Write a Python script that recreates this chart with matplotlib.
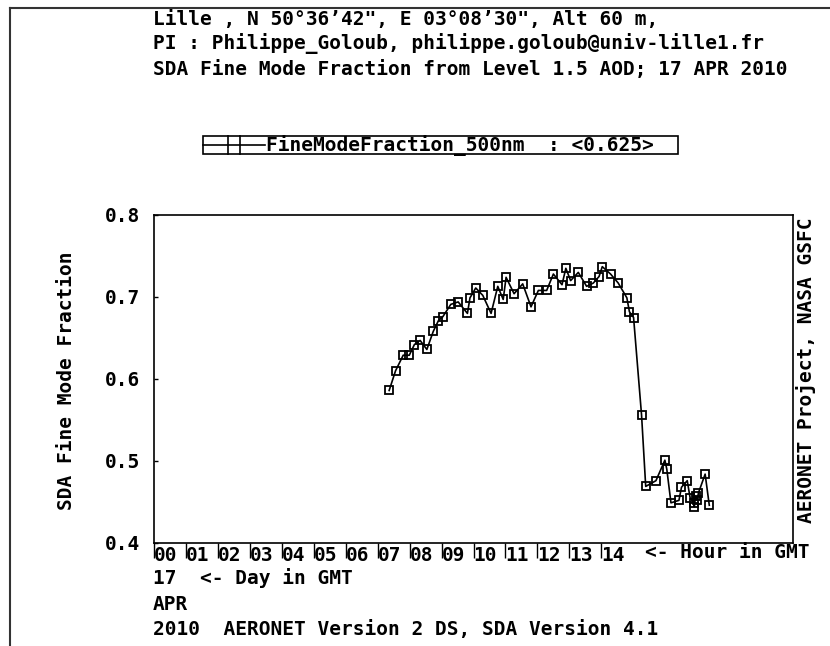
import numpy as np
import matplotlib.pyplot as plt
from matplotlib.lines import Line2D
from matplotlib.patches import Rectangle

# Fine mode fraction at 500 nm, Lille, 17 APR 2010 (hour in GMT)
hours = [7.36, 7.56, 7.80, 7.99, 8.15, 8.33, 8.54, 8.74, 8.90, 9.04,
         9.29, 9.52, 9.81, 9.89, 10.07, 10.29, 10.55, 10.76, 10.93, 11.02,
         11.27, 11.54, 11.80, 12.03, 12.29, 12.50, 12.77, 12.89, 13.04, 13.28,
         13.54, 13.75, 13.93, 14.03, 14.29, 14.53, 14.80, 14.88, 15.01, 15.26,
         15.39, 15.71, 15.99, 16.05, 16.18, 16.43, 16.51, 16.69, 16.78, 16.90,
         16.91, 16.95, 17.00, 17.04, 17.25, 17.38]
fmf = [0.586, 0.610, 0.629, 0.629, 0.642, 0.647, 0.636, 0.658, 0.671, 0.676,
       0.691, 0.694, 0.680, 0.699, 0.711, 0.702, 0.680, 0.713, 0.697, 0.724,
       0.704, 0.716, 0.688, 0.708, 0.708, 0.728, 0.715, 0.735, 0.720, 0.730,
       0.713, 0.717, 0.725, 0.737, 0.728, 0.717, 0.699, 0.682, 0.675, 0.556,
       0.469, 0.476, 0.501, 0.490, 0.449, 0.452, 0.468, 0.476, 0.455, 0.449,
       0.444, 0.457, 0.452, 0.461, 0.484, 0.446]
fmf_mean = 0.625

hour_ticks = list(range(15))
hour_labels = ["%02d" % h for h in hour_ticks]
y_ticks = [0.4, 0.5, 0.6, 0.7, 0.8]

plt.rcParams["font.family"] = "DejaVu Sans Mono"
plt.rcParams["font.weight"] = "bold"
plt.rcParams["font.size"] = 14

W, H = 830, 646
fig = plt.figure(figsize=(W / 100, H / 100), dpi=100)


def fx(px):
    return px / W


def fy(py):
    return 1 - py / H


ax = fig.add_axes([fx(154), fy(543), fx(793) - fx(154), fy(215) - fy(543)])

ax.plot(hours, fmf, color="black", lw=1.2, marker="s", ms=5.5,
        mfc="none", mec="black", mew=1.3)

ax.set_xlim(0, 20)
ax.set_ylim(0.4, 0.8)
ax.set_yticks(y_ticks, labels=["%.1f" % v for v in y_ticks])
ax.set_xticks(hour_ticks, labels=hour_labels)
plt.setp(ax.get_xticklabels(), ha="left")
ax.tick_params(axis="y", direction="in", length=3, width=1, pad=10)
ax.tick_params(axis="x", direction="out", length=11, width=1, pad=-9)
for s in ax.spines.values():
    s.set_linewidth(1.2)

# header lines
fig.text(fx(153), fy(19), "Lille , N 50°36’42\", E 03°08’30\", Alt 60 m,", va="center")
fig.text(fx(153), fy(44), "PI : Philippe_Goloub, philippe.goloub@univ-lille1.fr", va="center")
fig.text(fx(153), fy(69), "SDA Fine Mode Fraction from Level 1.5 AOD; 17 APR 2010", va="center")

# legend box
fig.add_artist(Rectangle((fx(203), fy(154)), fx(678) - fx(203), fy(136) - fy(154),
                         transform=fig.transFigure, fill=False, lw=1.2, ec="black"))
fig.add_artist(Line2D([fx(203), fx(265)], [fy(145), fy(145)], transform=fig.transFigure,
                      color="black", lw=1.2))
for lx in (228, 240):
    fig.add_artist(Line2D([fx(lx), fx(lx)], [fy(136), fy(154)], transform=fig.transFigure,
                          color="black", lw=1.2))
fig.text(fx(266), fy(145), "FineModeFraction_500nm  : <%.3f>" % fmf_mean, va="center")

# axis titles
fig.text(fx(66), fy(381), "SDA Fine Mode Fraction", rotation=90, ha="center", va="center")
fig.text(fx(806), fy(370), "AERONET Project, NASA GSFC", rotation=90, ha="center", va="center")
fig.text(fx(645), fy(553), "<- Hour in GMT", va="center")
fig.text(fx(153), fy(578), "17  <- Day in GMT", va="center")
fig.text(fx(153), fy(604), "APR", va="center")
fig.text(fx(153), fy(630), "2010  AERONET Version 2 DS, SDA Version 4.1", va="center")

# outer frame
fig.add_artist(Line2D([fx(10), fx(10)], [0, fy(8)], transform=fig.transFigure, color="#333333", lw=1.5))
fig.add_artist(Line2D([fx(10), 1], [fy(8), fy(8)], transform=fig.transFigure, color="#333333", lw=1.5))

fig.savefig("out.png", dpi=100)
